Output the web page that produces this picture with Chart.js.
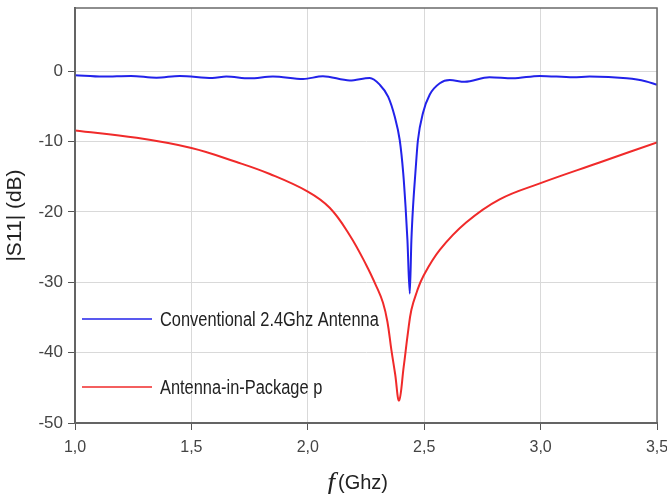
<!DOCTYPE html>
<html lang="en">
<head>
<meta charset="UTF-8">
<title>|S11| vs frequency</title>
<script src="https://cdn.jsdelivr.net/npm/chart.js"></script>
<style>
  html, body { margin: 0; padding: 0; background: #fff; }
  #wrap { width: 667px; height: 494px; position: relative; overflow: hidden; }
</style>
</head>
<body>
<div id="wrap"><canvas id="grafico"></canvas></div>
<script>
// frequency (GHz) and |S11| (dB)
const freqConv = [1.0, 1.12, 1.24, 1.35, 1.45, 1.59, 1.65, 1.75, 1.85, 1.98, 2.065, 2.18, 2.266, 2.309, 2.345, 2.373, 2.395, 2.41, 2.42, 2.428, 2.438, 2.445, 2.452, 2.462, 2.473, 2.495, 2.524, 2.567, 2.61, 2.674, 2.78, 2.88, 2.996, 3.14, 3.21, 3.37, 3.45, 3.5];
const s11Conv  = [-0.55, -0.75, -0.65, -0.9, -0.65, -0.95, -0.75, -1.0, -0.75, -1.1, -0.7, -1.3, -0.95, -1.9, -3.6, -6.4, -9.8, -14.5, -19.3, -24.0, -31.6, -24.0, -19.3, -14.5, -9.8, -5.9, -3.3, -1.7, -1.25, -1.5, -0.85, -1.0, -0.65, -0.85, -0.75, -1.0, -1.4, -1.9];

const freqAip = [1.0, 1.265, 1.5, 1.694, 1.837, 2.0, 2.094, 2.18, 2.252, 2.295, 2.323, 2.342, 2.359, 2.375, 2.392, 2.412, 2.43, 2.445, 2.469, 2.495, 2.567, 2.68, 2.824, 3.0, 3.25, 3.5];
const s11Aip  = [-8.4, -9.45, -10.9, -12.9, -14.6, -17.1, -19.4, -23.3, -27.6, -30.6, -32.9, -35.6, -39.6, -43.0, -46.8, -42.0, -37.2, -33.9, -31.3, -29.2, -25.4, -21.5, -18.2, -15.9, -13.0, -10.1];

const xTicks = [1.0, 1.5, 2.0, 2.5, 3.0, 3.5];
const yTicks = [-50, -40, -30, -20, -10, 0];

const seriesNames = ['Conventional 2.4Ghz Antenna', 'Antenna-in-Package p'];
const seriesColors = ['#2222ea', '#f02a2a'];

function pts(xs, ys) {
    return xs.map((x, i) => ({ x: x, y: ys[i] }));
}

// box around the plot, legend inside, and the x title with an italic f
const decor = {
    id: 'decor',
    afterDraw(chart) {
        const ctx = chart.ctx;
        const a = chart.chartArea;
        ctx.save();
        ctx.strokeStyle = '#6a6a6a';
        ctx.lineWidth = 1.5;
        ctx.strokeRect(a.left, a.top, a.right - a.left, a.bottom - a.top);

        // legend (narrow lettering like the original)
        const rows = [a.top + 311, a.top + 379];
        for (let i = 0; i < 2; i++) {
            ctx.strokeStyle = seriesColors[i];
            ctx.lineWidth = 1.5;
            ctx.beginPath();
            ctx.moveTo(a.left + 7, rows[i]);
            ctx.lineTo(a.left + 77, rows[i]);
            ctx.stroke();
            ctx.save();
            ctx.translate(a.left + 85, rows[i] + 1);
            ctx.scale(0.82, 1);
            ctx.font = '20px "Liberation Sans", Arial, sans-serif';
            ctx.textBaseline = 'middle';
            ctx.textAlign = 'left';
            ctx.fillStyle = '#222';
            ctx.fillText(seriesNames[i], 0, 0);
            ctx.restore();
        }

        // x axis title
        const cx = (a.left + a.right) / 2;
        const ty = a.bottom + 66;
        ctx.fillStyle = '#222';
        ctx.textBaseline = 'alphabetic';
        ctx.font = 'italic 28px "Liberation Serif", "DejaVu Serif", serif';
        ctx.textAlign = 'right';
        ctx.fillText('f', cx - 31, ty + 2);
        ctx.font = '20px "Liberation Sans", Arial, sans-serif';
        ctx.textAlign = 'left';
        ctx.fillText('(Ghz)', cx - 28, ty);
        ctx.restore();
    }
};

new Chart(document.getElementById('grafico').getContext('2d'), {
    type: 'line',
    data: {
        datasets: [
            {
                label: seriesNames[0],
                data: pts(freqConv, s11Conv),
                borderColor: seriesColors[0],
                borderWidth: 2,
                pointRadius: 0,
                cubicInterpolationMode: 'monotone',
                fill: false
            },
            {
                label: seriesNames[1],
                data: pts(freqAip, s11Aip),
                borderColor: seriesColors[1],
                borderWidth: 2,
                pointRadius: 0,
                tension: 0.4,
                fill: false
            }
        ]
    },
    options: {
        responsive: true,
        maintainAspectRatio: false,
        animation: false,
        layout: { padding: { top: 8, right: 10, left: 0, bottom: 0 } },
        plugins: {
            legend: { display: false },
            tooltip: { enabled: false }
        },
        scales: {
            x: {
                type: 'linear',
                position: 'bottom',
                min: 1.0,
                max: 3.5,
                afterBuildTicks: s => { s.ticks = xTicks.map(v => ({ value: v })); },
                afterFit: s => { s.height = 71; s.paddingRight = 0; s.paddingLeft = 0; },
                ticks: {
                    color: '#444',
                    font: { family: '"Liberation Sans", Arial, sans-serif', size: 16 },
                    padding: 8,
                    maxRotation: 0,
                    callback: v => v.toFixed(1).replace('.', ',')
                },
                grid: { color: '#d9d9d9', lineWidth: 1, tickLength: 7, tickColor: '#555' },
                border: { color: '#555', width: 2 }
            },
            y: {
                min: -50,
                max: 9,
                afterBuildTicks: s => { s.ticks = yTicks.map(v => ({ value: v })); },
                afterFit: s => { s.width = 75; s.paddingTop = 0; s.paddingBottom = 0; },
                ticks: {
                    color: '#444',
                    font: { family: '"Liberation Sans", Arial, sans-serif', size: 17 },
                    padding: 5
                },
                title: {
                    display: true,
                    text: '|S11| (dB)',
                    color: '#222',
                    font: { family: '"Liberation Sans", Arial, sans-serif', size: 21 },
                    padding: { top: 3, bottom: 0 }
                },
                grid: { color: '#d9d9d9', lineWidth: 1, tickLength: 7, tickColor: '#555' },
                border: { color: '#555', width: 2 }
            }
        }
    },
    plugins: [decor]
});
</script>
</body>
</html>
